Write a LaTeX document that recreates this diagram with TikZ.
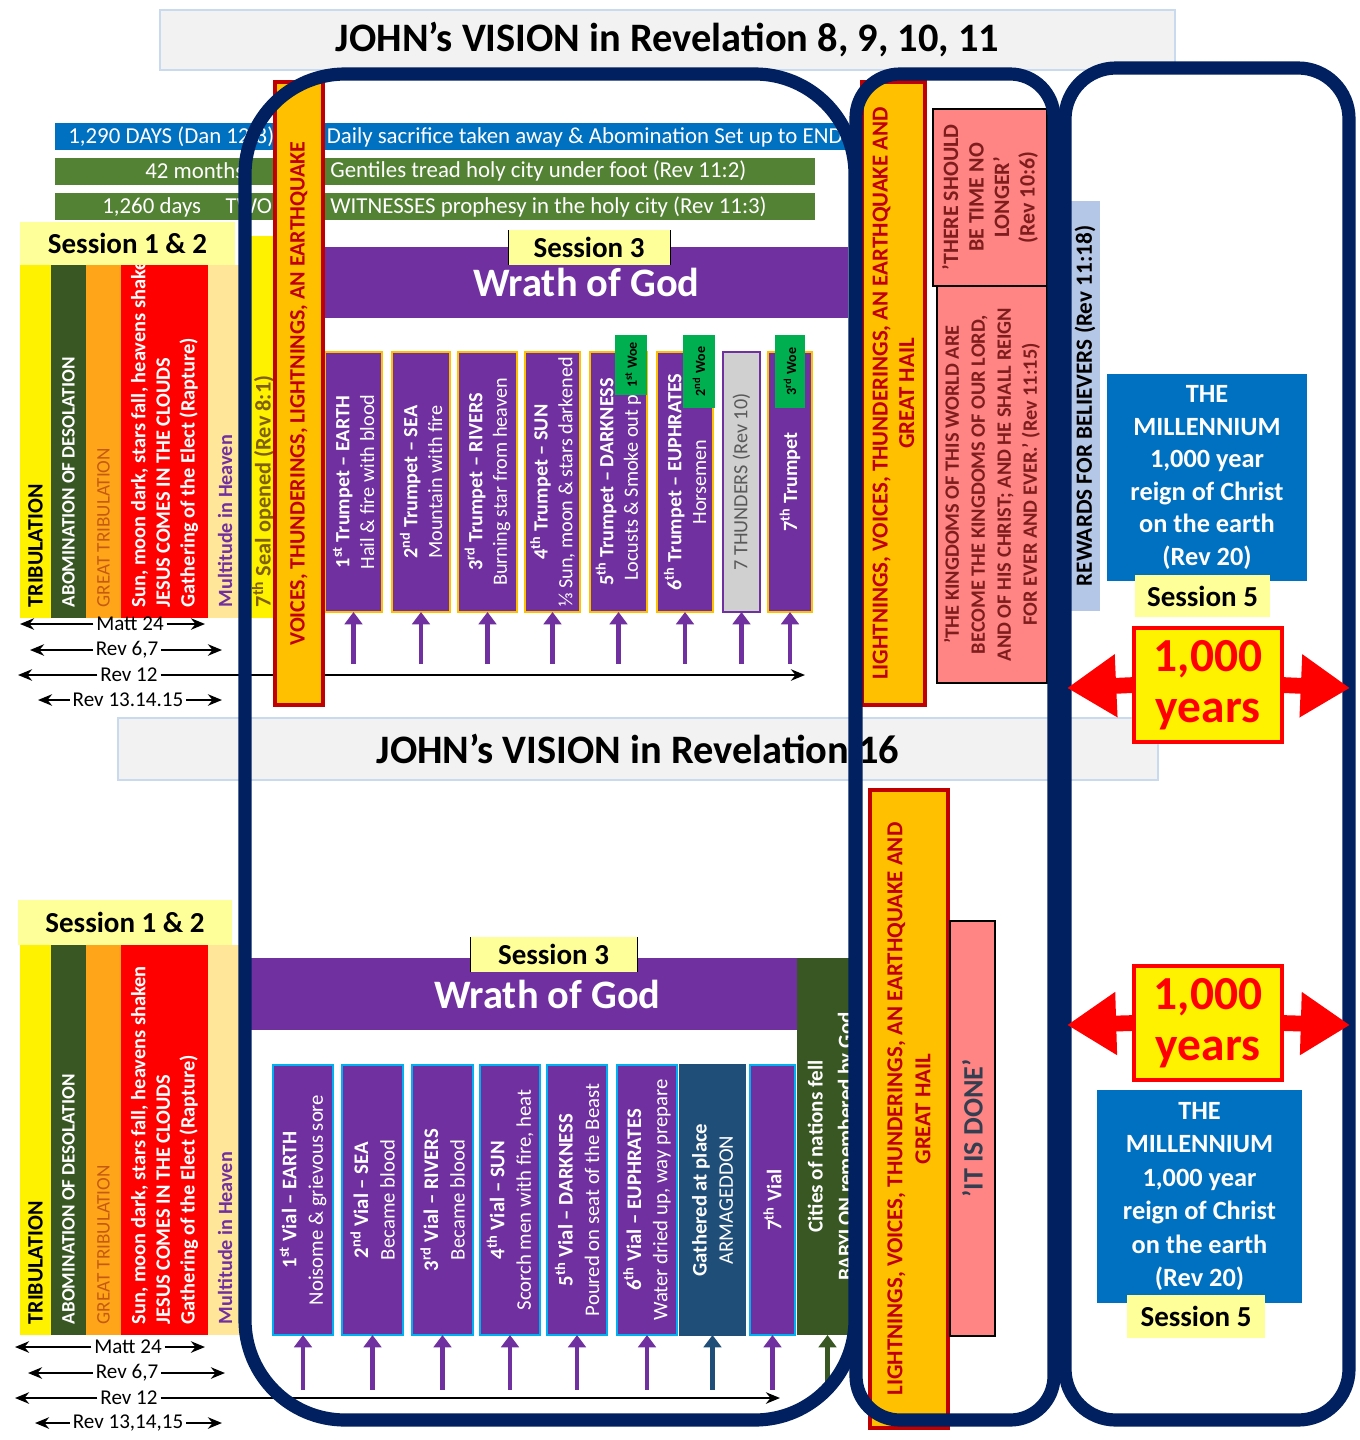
\documentclass[tikz,border=0pt]{standalone}
\usepackage{fontspec}
\setmainfont{Carlito}
\usepackage{tikz}
\usetikzlibrary{arrows.meta}

\newlength\pxu
\setlength\pxu{0.02cm}
\newcommand\fsz[2]{\fontsize{#1}{#2}\selectfont}
% 方块: 名字, 样式, x1, y1, x2, y2
\newcommand\blk[6]{\node[#2,minimum width={(#5-#3)*\pxu},minimum height={(#6-#4)*\pxu}] (#1) at ({(#3+#5)/2},{(#4+#6)/2}) {};}

\definecolor{navy}{HTML}{002060}
\definecolor{purp}{HTML}{7030A0}
\definecolor{gold}{HTML}{FFC000}
\definecolor{dred}{HTML}{C00000}
\definecolor{dgreen}{HTML}{385723}
\definecolor{mgreen}{HTML}{548235}
\definecolor{wgreen}{HTML}{00B050}
\definecolor{mblue}{HTML}{0070C0}
\definecolor{armblue}{HTML}{1F4E79}
\definecolor{vialedge}{HTML}{00B0F0}
\definecolor{salmon}{HTML}{FF8585}
\definecolor{lyel}{HTML}{FFFF99}
\definecolor{tan}{HTML}{FFE699}
\definecolor{orng}{HTML}{FFA51A}
\definecolor{steel}{HTML}{B4C7E7}
\definecolor{lgray}{HTML}{D0D0D0}
\definecolor{ttlfill}{HTML}{F2F2F2}
\definecolor{ttledge}{HTML}{C9DAEE}
\definecolor{grtx}{HTML}{C55A11}
\definecolor{sealtx}{HTML}{7F6000}
\definecolor{kred}{HTML}{7F1D1D}
\definecolor{thgray}{HTML}{595959}
\definecolor{donetx}{HTML}{333F50}

\begin{document}
\begin{tikzpicture}[x=\pxu,y=-\pxu,>=Stealth,
    colbox/.style={inner sep=0,outer sep=0,fill=#1},
    edgebox/.style 2 args={inner sep=0,outer sep=0,fill=#1,draw=#2,line width=1.1pt},
    sessbox/.style={colbox=lyel},
    sesstxt/.style={inner sep=0,font=\bfseries\fsz{16.5}{18}},
    bartxt/.style={inner sep=0,text=white,font=\fsz{13}{15}},
    vtext/.style={rotate=90,inner sep=0,align=center,text=white,font=\fsz{11.5}{14}},
    wrtxt/.style={inner sep=0,text=white,font=\bfseries\fsz{23}{26}},
    liftarr/.style={draw=#1,line width=2.6pt,{Triangle[length=7pt,width=10pt]}-},
    spanarr/.style={line width=1.3pt,-{Stealth[length=8pt,width=6.5pt]}},
    revtag/.style={inner sep=1.5pt,font=\fsz{12}{14}},
    navyframe/.style={draw=navy,line width=7.5pt},
    milltxt/.style={inner sep=0,align=center,text=white,font=\bfseries\fsz{15}{18.5}},
    bigarr/.style={draw=red,line width=9pt,-{Triangle[length=28pt,width=34pt]}},
  ]
\useasboundingbox (0,0) rectangle (1359,1440);
\fill[white] (0,0) rectangle (1359,1440);

% 标题
\blk{ttlA}{colbox=ttlfill,draw=ttledge,line width=1.6pt}{160}{10}{1175}{70}
\node[font=\bfseries\fsz{23}{26}] (ttlTA) at (ttlA) {JOHN's VISION in Revelation 8, 9, 10, 11};
\blk{ttlB}{colbox=ttlfill,draw=ttledge,line width=1.6pt}{118}{718}{1158}{780}
\node[font=\bfseries\fsz{23}{26}] (ttlTB) at (ttlB) {JOHN's VISION in Revelation 16};

% 上方时间条
\blk{dys}{colbox=mblue}{55}{123}{845}{150}
\node[bartxt,anchor=west] (dysL) at (68,137) {1,290 DAYS (Dan 12:8)};
\node[bartxt,anchor=east] (dysR) at (843,137) {Daily sacrifice taken away \& Abomination Set up to END};
\blk{mon}{colbox=mgreen}{55}{158}{815}{185}
\node[bartxt,anchor=west] (monL) at (145,171) {42 months};
\node[bartxt,anchor=west] (monR) at (330,171) {Gentiles tread holy city under foot (Rev 11:2)};
\blk{wit}{colbox=mgreen}{55}{193}{815}{220}
\node[bartxt,anchor=west] (witL) at (102,207) {1,260 days\hspace{14pt}TWO};
\node[bartxt,anchor=west] (witR) at (330,207) {WITNESSES prophesy in the holy city (Rev 11:3)};

% Session 1 & 2 栏
\foreach \p/\ya/\yb in {A/265/618,B/945/1335}{
  \blk{tri\p}{colbox=yellow}{20}{\ya}{51}{\yb}
  \blk{abo\p}{colbox=dgreen}{51}{\ya}{86}{\yb}
  \blk{grt\p}{colbox=orng}{86}{\ya}{121}{\yb}
  \blk{sun\p}{colbox=red}{121}{\ya}{208}{\yb}
  \blk{mul\p}{colbox=tan}{208}{\ya}{242}{\yb}
  \node[vtext,anchor=west,text=black,font=\bfseries\fsz{12.5}{14}] (triT\p) at ([yshift=6pt]tri\p.south) {TRIBULATION};
  \node[vtext,anchor=west,font=\bfseries\fsz{10.8}{12}] (aboT\p) at ([yshift=6pt]abo\p.south) {ABOMINATION OF DESOLATION};
  \node[vtext,anchor=west,text=grtx,font=\fsz{10.9}{12}] (grtT\p) at ([yshift=6pt]grt\p.south) {GREAT TRIBULATION};
  \node[vtext,anchor=west,align=left,font=\bfseries\fsz{11.6}{14}] (sunT\p) at ([yshift=6pt]sun\p.south)
    {Sun, moon dark, stars fall, heavens shaken\\JESUS COMES IN THE CLOUDS\\Gathering of the Elect (Rapture)};
  \node[vtext,anchor=west,text=purp,font=\bfseries\fsz{11.5}{13}] (mulT\p) at ([yshift=6pt]mul\p.south) {Multitude in Heaven};
}
\blk{sesA}{sessbox}{20}{222}{235}{265}
\node[sesstxt] (sesTA) at (sesA) {Session 1 \& 2};
\blk{sesB}{sessbox}{18}{900}{232}{945}
\node[sesstxt] (sesTB) at (sesB) {Session 1 \& 2};
\blk{seal}{colbox=yellow}{248}{236}{273}{618}
\node[vtext,anchor=west,text=sealtx,font=\bfseries\fsz{12.7}{14}] (sealT) at ([xshift=1.5pt,yshift=6pt]seal.south) {7\textsuperscript{th} Seal opened (Rev 8:1)};

% 经文范围箭头
\foreach \i/\c/\y/\t/\xl/\xr in {1/130/624/{Matt 24}/20/205, 2/127/650/{Rev 6,7}/30/222,
    3/129/675/{Rev 12}/18/805, 4/128/700/{Rev 13.14.15}/38/222,
    5/128/1347/{Matt 24}/15/205, 6/127/1373/{Rev 6,7}/28/225,
    7/129/1398/{Rev 12}/15/780, 8/128/1423/{Rev 13,14,15}/35/222}{
  \coordinate (sl\i) at (\xl,\y);
  \coordinate (sr\i) at (\xr,\y);
  \node[revtag] (sp\i) at (\c,\y) {\t};
  \draw[spanarr] (sp\i.west) -- (sl\i);
  \draw[spanarr] (sp\i.east) -- (sr\i);
}

% 第 8-11 章: 七号
\blk{wrA}{colbox=purp}{325}{247}{848}{318}
\node[wrtxt] (wrTA) at (wrA) {Wrath of God};
\blk{s3A}{sessbox}{508}{230}{670}{265}
\draw[thin] (s3A.north west) -- (s3A.south west) (s3A.north east) -- (s3A.south east);
\node[sesstxt] (s3TA) at (s3A) {Session 3};
\foreach \i/\xa/\xb/\fc/\ec/\t in {
    1/325/382/purp/gold/{\textbf{1\textsuperscript{st} Trumpet – EARTH}\\Hail \& fire with blood},
    2/392/450/purp/gold/{\textbf{2\textsuperscript{nd} Trumpet – SEA}\\Mountain with fire},
    3/458/517/purp/gold/{\textbf{3\textsuperscript{rd} Trumpet – RIVERS}\\Burning star from heaven},
    4/525/580/purp/gold/{\textbf{4\textsuperscript{th} Trumpet – SUN}\\⅓ Sun, moon \& stars darkened},
    5/590/647/purp/gold/{\textbf{5\textsuperscript{th} Trumpet – DARKNESS}\\Locusts \& Smoke out pit},
    6/657/713/purp/gold/{\textbf{6\textsuperscript{th} Trumpet – EUPHRATES}\\Horsemen},
    7/723/760/lgray/purp/{\color{thgray}7 THUNDERS (Rev 10)},
    8/768/812/purp/gold/{\textbf{7\textsuperscript{th} Trumpet}}}{
  \blk{t\i}{edgebox={\fc}{\ec}}{\xa}{352}{\xb}{612}
  \node[vtext] (tT\i) at (t\i) {\t};
  \draw[liftarr=purp] (t\i.south) -- ++(0,52);
}
\foreach \i/\xa/\xb/\yb/\s in {1/615/647/395/st,2/683/715/408/nd,3/775/805/408/rd}{
  \blk{w\i}{colbox=wgreen}{\xa}{335}{\xb}{\yb}
  \node[vtext,text=black,font=\bfseries\fsz{8}{9}] (wT\i) at (w\i) {\i\textsuperscript{\s} Woe};
}
\blk{vce}{edgebox={gold}{dred},line width=2.3pt}{275}{82}{323}{705}
\node[vtext,text=dred,font=\bfseries\fsz{12.5}{15}] (vceT) at (vce) {VOICES, THUNDERINGS, LIGHTNINGS, AN EARTHQUAKE};

% 右侧 (上)
\blk{lgtA}{edgebox={gold}{dred},line width=2.3pt}{862}{82}{925}{705}
\node[vtext,text=dred,font=\bfseries\fsz{13}{15}] (lgtTA) at (lgtA) {LIGHTNINGS, VOICES, THUNDERINGS, AN EARTHQUAKE AND\\GREAT HAIL};
\blk{tnl}{edgebox={salmon}{black},line width=0.6pt}{933}{109}{1047}{286}
\node[vtext,text=kred,font=\bfseries\fsz{12.5}{14.5}] (tnlT) at (tnl) {'THERE SHOULD\\BE TIME NO\\LONGER'\\(Rev 10:6)};
\blk{kng}{edgebox={salmon}{black},line width=0.6pt}{937}{286}{1047}{683}
\node[vtext,text=kred,font=\bfseries\fsz{11.6}{14.8}] (kngT) at (kng)
  {'THE KINGDOMS OF THIS WORLD ARE\\BECOME THE KINGDOMS OF OUR LORD,\\AND OF HIS CHRIST; AND HE SHALL REIGN\\FOR EVER AND EVER.' (Rev 11:15)};
\blk{rwd}{colbox=steel}{1070}{201}{1100}{611}
\node[vtext,text=black,font=\bfseries\fsz{13.2}{14}] (rwdT) at (rwd) {REWARDS FOR BELIEVERS (Rev 11:18)};
\blk{milA}{colbox=mblue}{1107}{374}{1307}{581}
\node[milltxt] (milTA) at (milA) {THE\\MILLENNIUM\\1,000 year\\reign of Christ\\on the earth\\(Rev 20)};
\blk{s5A}{sessbox}{1135}{575}{1270}{617}
\node[sesstxt] (s5TA) at (s5A) {Session 5};

% 第 16 章: 七碗
\blk{wrB}{colbox=purp}{250}{958}{845}{1030}
\node[wrtxt] (wrTB) at (wrB) {Wrath of God};
\blk{s3B}{sessbox}{470}{937}{637}{972}
\draw[thin] (s3B.north west) -- (s3B.south west) (s3B.north east) -- (s3B.south east);
\node[sesstxt] (s3TB) at (s3B) {Session 3};
\foreach \i/\xa/\xb/\fc/\ec/\t in {
    1/273/333/purp/vialedge/{\textbf{1\textsuperscript{st} Vial – EARTH}\\Noisome \& grievous sore},
    2/342/403/purp/vialedge/{\textbf{2\textsuperscript{nd} Vial – SEA}\\Became blood},
    3/412/473/purp/vialedge/{\textbf{3\textsuperscript{rd} Vial – RIVERS}\\Became blood},
    4/480/540/purp/vialedge/{\textbf{4\textsuperscript{th} Vial – SUN}\\Scorch men with fire, heat},
    5/547/607/purp/vialedge/{\textbf{5\textsuperscript{th} Vial – DARKNESS}\\Poured on seat of the Beast},
    6/617/677/purp/vialedge/{\textbf{6\textsuperscript{th} Vial – EUPHRATES}\\Water dried up, way prepare},
    7/680/745/armblue/armblue/{\textbf{Gathered at place}\\ARMAGEDDON},
    8/750/795/purp/vialedge/{\textbf{7\textsuperscript{th} Vial}}}{
  \blk{v\i}{edgebox={\fc}{\ec}}{\xa}{1065}{\xb}{1335}
  \node[vtext,font=\fsz{11.8}{15}] (vT\i) at (v\i) {\t};
  \draw[liftarr=\fc] (v\i.south) -- ++(0,55);
}
\blk{cty}{colbox=dgreen}{797}{958}{858}{1335}
\node[vtext,font=\bfseries\fsz{12}{17}] (ctyT) at ([xshift=2.5pt]cty) {Cities of nations fell\\BABYLON remembered by God};
\draw[liftarr=dgreen] (cty.south) -- ++(0,55);

% 右侧 (下)
\blk{lgtB}{edgebox={gold}{dred},line width=2.3pt}{870}{790}{948}{1428}
\node[vtext,text=dred,font=\bfseries\fsz{13}{16}] (lgtTB) at (lgtB) {LIGHTNINGS, VOICES, THUNDERINGS, AN EARTHQUAKE AND\\GREAT HAIL};
\blk{dne}{edgebox={salmon}{black},line width=0.6pt}{950}{921}{995}{1336}
\node[vtext,text=donetx,font=\bfseries\fsz{16}{18}] (dneT) at (dne) {'IT IS DONE'};
\blk{milB}{colbox=mblue}{1097}{1090}{1302}{1303}
\node[milltxt,font=\bfseries\fsz{15}{19}] (milTB) at (milB) {THE\\MILLENNIUM\\1,000 year\\reign of Christ\\on the earth\\(Rev 20)};
\blk{s5B}{sessbox}{1127}{1295}{1265}{1338}
\node[sesstxt] (s5TB) at (s5B) {Session 5};

% 外框
\draw[navyframe,rounded corners=57pt] (245,74) rectangle (855,1420);
\draw[navyframe,rounded corners=25pt] (856,74) rectangle (1054,1420);
\draw[navyframe,rounded corners=29pt] (1065,68) rectangle (1349,1420);

% 一千年
\foreach \p/\ya/\yb/\ym in {A/628/742/688,B/966/1080/1025}{
  \blk{ky\p}{edgebox={yellow}{red},line width=2.8pt}{1134}{\ya}{1282}{\yb}
  \node[inner sep=0,align=center,text=red,font=\bfseries\fsz{27}{29}] (kyT\p) at (ky\p) {1,000\\years};
  \coordinate (kyl\p) at (1067,\ym);
  \coordinate (kyr\p) at (1350,\ym);
  \draw[bigarr] (ky\p.west) -- (kyl\p);
  \draw[bigarr] (ky\p.east) -- (kyr\p);
}
\end{tikzpicture}
\end{document}
